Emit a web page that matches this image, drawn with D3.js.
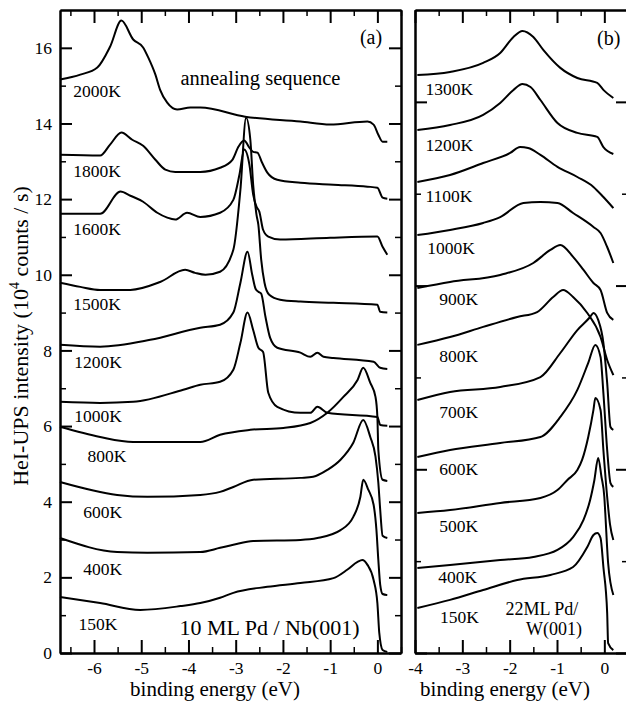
<!DOCTYPE html>
<html>
<head>
<meta charset="utf-8">
<style>
  body { margin: 0; background: #fff; }
  svg text { font-family: "Liberation Serif", "Times New Roman", serif; fill: #000; }
</style>
</head>
<body>
<svg id="chart"></svg>
<script src="https://cdn.jsdelivr.net/npm/d3@7/dist/d3.min.js"></script>
<script>
// ---- panel (a): 10 ML Pd / Nb(001), [binding energy eV, intensity 1e4 counts/s]
const tempsA = ["2000K", "1800K", "1600K", "1500K", "1200K", "1000K", "800K", "600K", "400K", "150K"];
const nb2000 = [[-6.72,15.16],[-6.29,15.29],[-5.93,15.48],[-5.66,16.03],[-5.42,16.72],[-5.17,16.22],[-4.96,16.01],[-4.85,15.74],[-4.70,15.29],[-4.60,14.89],[-4.45,14.55],[-4.24,14.37],[-3.96,14.42],[-3.75,14.42],[-2.80,14.18],[-1.63,14.05],[-1.00,13.97],[-0.21,14.05],[-0.08,13.97],[0.02,13.70],[0.11,13.52],[0.21,13.52]];
const nb1800 = [[-6.72,13.17],[-5.87,13.15],[-5.66,13.44],[-5.42,13.76],[-5.19,13.57],[-4.96,13.41],[-4.70,13.04],[-4.49,12.78],[-4.28,12.72],[-3.75,12.72],[-3.33,12.83],[-3.07,13.04],[-2.94,13.39],[-2.82,13.55],[-2.71,13.36],[-2.63,13.25],[-2.54,13.23],[-2.44,12.96],[-2.33,12.70],[-2.12,12.51],[-1.63,12.43],[-0.93,12.38],[-0.21,12.33],[0,12.30],[0.11,12.04],[0.21,12.01]];
const nb1600 = [[-6.72,11.61],[-5.87,11.61],[-5.44,12.20],[-5.23,12.09],[-4.96,11.93],[-4.66,11.64],[-4.45,11.51],[-4.28,11.46],[-4.03,11.64],[-3.75,11.53],[-3.33,11.64],[-3.05,11.98],[-2.92,12.65],[-2.82,13.31],[-2.71,12.91],[-2.63,12.12],[-2.56,11.80],[-2.50,11.67],[-2.42,11.19],[-2.31,11.01],[-2.06,10.93],[-1.00,10.98],[0,11.01],[0.11,10.74],[0.21,10.53]];
const nb1500 = [[-6.72,9.79],[-6.29,9.68],[-5.87,9.60],[-5.23,9.60],[-4.60,9.81],[-4.07,10.13],[-3.86,10.05],[-3.64,10.00],[-3.33,10.08],[-3.05,10.66],[-2.90,12.25],[-2.78,14.15],[-2.69,13.57],[-2.63,12.38],[-2.56,11.59],[-2.52,11.32],[-2.46,10.40],[-2.39,9.79],[-2.29,9.47],[-2.06,9.34],[-1.63,9.29],[-0.93,9.26],[0,9.21],[0.06,9.02],[0.21,9.00]];
const nb1200 = [[-6.72,8.15],[-5.87,8.10],[-4.81,8.28],[-3.75,8.60],[-3.33,8.68],[-3.05,9.00],[-2.90,9.79],[-2.75,10.61],[-2.65,10.00],[-2.58,9.63],[-2.52,9.55],[-2.46,9.50],[-2.37,8.89],[-2.27,8.33],[-2.12,8.07],[-1.63,7.94],[-1.42,7.83],[-1.27,7.94],[-1.14,7.83],[-0.93,7.80],[-0.08,7.70],[0.06,7.54],[0.21,7.51]];
const nb1000 = [[-6.72,6.64],[-5.87,6.61],[-5.17,6.64],[-4.11,6.96],[-3.75,7.09],[-3.33,7.17],[-3.05,7.49],[-2.90,8.20],[-2.75,9.00],[-2.63,8.54],[-2.52,8.07],[-2.42,7.96],[-2.31,6.88],[-2.12,6.51],[-1.63,6.35],[-1.42,6.35],[-1.27,6.51],[-1.06,6.35],[0,6.24],[0.06,6.03],[0.21,6.01]];
const nb800 = [[-6.72,5.98],[-5.87,5.71],[-5.17,5.58],[-3.75,5.58],[-3.33,5.77],[-2.69,5.90],[-1.99,5.95],[-1.42,6.08],[-1.06,6.35],[-0.72,6.77],[-0.42,7.22],[-0.30,7.54],[-0.15,7.14],[-0.04,6.77],[0,6.24],[0.02,5.37],[0.11,4.58],[0.21,4.55]];
const nb600 = [[-6.72,4.52],[-5.51,4.18],[-4.87,4.13],[-3.75,4.18],[-3.33,4.26],[-3.05,4.39],[-2.63,4.58],[-1.63,4.63],[-1.36,4.66],[-1.06,4.84],[-0.78,5.11],[-0.51,5.56],[-0.30,6.16],[-0.15,5.71],[-0.04,5.19],[0.02,4.50],[0.06,3.78],[0.11,3.10],[0.21,3.04]];
const nb400 = [[-6.72,3.04],[-5.51,2.67],[-4.87,2.65],[-3.75,2.67],[-3.33,2.78],[-3.05,2.86],[-2.63,2.96],[-1.63,2.99],[-1.27,3.04],[-0.78,3.25],[-0.51,3.60],[-0.36,4.13],[-0.30,4.58],[-0.19,4.31],[-0.08,3.92],[-0.02,3.25],[0.02,2.46],[0.06,1.80],[0.11,1.56],[0.21,1.53]];
const nb150 = [[-6.72,1.48],[-5.87,1.32],[-5.02,1.14],[-4.17,1.24],[-3.75,1.32],[-3.33,1.46],[-3.05,1.59],[-2.33,1.75],[-1.63,1.85],[-0.93,1.98],[-0.64,2.20],[-0.42,2.41],[-0.32,2.46],[-0.21,2.33],[-0.08,1.93],[0,1.32],[0.04,0.53],[0.11,0.08],[0.21,0.03]];
const curvesA = [nb2000, nb1800, nb1600, nb1500, nb1200, nb1000, nb800, nb600, nb400, nb150];
// label anchors (energy, intensity) of the temperature tags
const tagPosA = [[-6.44,14.71],[-6.44,12.59],[-6.44,11.06],[-6.44,9.07],[-6.42,7.54],[-6.42,6.11],[-6.14,5.05],[-6.23,3.57],[-6.23,2.06],[-6.33,0.61]];

// ---- panel (b): 22 ML Pd / W(001)
const tempsB = ["1300K", "1200K", "1100K", "1000K", "900K", "800K", "700K", "600K", "500K", "400K", "150K"];
const w1300 = [[-3.95,3.146],[-3.26,3.163],[-2.56,3.212],[-2.20,3.266],[-1.92,3.353],[-1.73,3.386],[-1.50,3.353],[-1.29,3.283],[-0.93,3.185],[-0.57,3.130],[-0.15,3.103],[-0.02,3.065],[0.19,3.021]];
const w1200 = [[-3.95,2.847],[-3.26,2.874],[-2.56,2.929],[-2.20,2.994],[-1.92,3.065],[-1.73,3.097],[-1.56,3.081],[-1.35,3.010],[-0.99,2.885],[-0.57,2.831],[-0.15,2.809],[-0.02,2.754],[0.19,2.716]];
const w1100 = [[-3.95,2.564],[-3.26,2.602],[-2.56,2.667],[-1.99,2.722],[-1.78,2.754],[-1.61,2.749],[-1.35,2.711],[-0.99,2.646],[-0.57,2.591],[-0.23,2.537],[-0.02,2.482],[0.19,2.422]];
const w1000 = [[-3.95,2.275],[-3.26,2.303],[-2.56,2.341],[-2.20,2.373],[-1.71,2.450],[-1.35,2.455],[-0.99,2.450],[-0.66,2.395],[-0.23,2.319],[-0.08,2.286],[0.06,2.210],[0.19,2.123]];
const w900 = [[-3.95,1.987],[-3.26,2.020],[-2.20,2.058],[-1.50,2.123],[-1.14,2.194],[-0.93,2.221],[-0.66,2.156],[-0.44,2.085],[-0.23,2.014],[-0.08,1.976],[0.06,1.851],[0.19,1.813]];
const w800 = [[-3.95,1.677],[-3.26,1.720],[-2.56,1.775],[-1.84,1.829],[-1.42,1.856],[-1.08,1.938],[-0.87,1.976],[-0.66,1.938],[-0.36,1.851],[-0.08,1.720],[0.06,1.595],[0.19,1.513]];
const w700 = [[-3.95,1.377],[-3.26,1.421],[-2.20,1.448],[-1.35,1.502],[-0.93,1.633],[-0.57,1.758],[-0.30,1.829],[-0.23,1.851],[-0.13,1.813],[-0.02,1.688],[0.06,1.470],[0.13,1.230],[0.19,1.214]];
const w600 = [[-3.95,1.067],[-3.26,1.105],[-2.20,1.143],[-1.35,1.176],[-0.93,1.285],[-0.57,1.432],[-0.34,1.579],[-0.19,1.677],[-0.08,1.611],[-0.02,1.415],[0.06,1.105],[0.13,0.925],[0.19,0.904]];
const w500 = [[-3.95,0.762],[-3.26,0.778],[-2.20,0.817],[-1.35,0.844],[-0.99,0.887],[-0.78,0.942],[-0.57,0.996],[-0.47,1.051],[-0.34,1.176],[-0.23,1.323],[-0.19,1.388],[-0.08,1.323],[-0.02,1.105],[0.06,0.849],[0.12,0.700],[0.19,0.615]];
const w400 = [[-3.95,0.463],[-3.26,0.479],[-2.20,0.506],[-1.50,0.523],[-0.99,0.561],[-0.66,0.631],[-0.44,0.724],[-0.30,0.833],[-0.21,0.942],[-0.13,1.062],[-0.06,0.958],[0,0.849],[0.02,0.762],[0.08,0.490],[0.19,0.316]];
const w150 = [[-3.95,0.245],[-3.26,0.289],[-2.56,0.343],[-1.84,0.397],[-1.14,0.425],[-0.66,0.468],[-0.36,0.577],[-0.23,0.642],[-0.15,0.653],[-0.08,0.626],[-0.02,0.468],[0.06,0.218],[0.08,0.054],[0.19,0.016]];
const curvesB = [w1300, w1200, w1100, w1000, w900, w800, w700, w600, w500, w400, w150];
const tagPosB = [[-3.78,3.04],[-3.78,2.73],[-3.78,2.455],[-3.74,2.17],[-3.49,1.894],[-3.49,1.584],[-3.49,1.279],[-3.49,0.969],[-3.49,0.659],[-3.51,0.381],[-3.47,0.163]];

const yTicksA = [0, 2, 4, 6, 8, 10, 12, 14, 16];

const W = 626, H = 701;
const svg = d3.select("#chart").attr("width", W).attr("height", H);
svg.append("rect").attr("width", W).attr("height", H).attr("fill", "#fff");

const plotTop = 10, plotBottom = 653;

const xA = d3.scaleLinear().domain([-6.72, 0.5]).range([60, 401]);
const yA = d3.scaleLinear().domain([0, 17]).range([plotBottom, plotTop]);
const xB = d3.scaleLinear().domain([-4, 0.5]).range([415, 628]);
const yB = d3.scaleLinear().domain([0, 3.5]).range([plotBottom, plotTop]);

function frame(x, y, xMajor, xMinor, yMajor, yMinor, yLabels) {
  const g = svg.append("g");
  const x0 = x.range()[0], x1 = x.range()[1];

  const styleAxis = (sel, w) => {
    sel.select(".domain").attr("stroke", "#000").attr("stroke-width", 2);
    sel.selectAll(".tick line").attr("stroke", "#000").attr("stroke-width", w);
    sel.selectAll("text").attr("font-family", "Liberation Serif").attr("font-size", 17.5).attr("fill", "#000");
  };

  // bottom
  g.append("g").attr("transform", `translate(0,${plotBottom})`)
    .call(d3.axisBottom(x).tickValues(xMinor).tickSize(-6).tickFormat("").tickSizeOuter(0))
    .call(s => styleAxis(s, 1.5));
  g.append("g").attr("transform", `translate(0,${plotBottom})`)
    .call(d3.axisBottom(x).tickValues(xMajor).tickSize(-13).tickPadding(9).tickSizeOuter(0)
      .tickFormat(d => d3.format("d")(d).replace("−", "-")))
    .call(s => styleAxis(s, 2));
  // top
  g.append("g").attr("transform", `translate(0,${plotTop})`)
    .call(d3.axisTop(x).tickValues(xMinor).tickSize(-6).tickFormat("").tickSizeOuter(0))
    .call(s => styleAxis(s, 1.5));
  g.append("g").attr("transform", `translate(0,${plotTop})`)
    .call(d3.axisTop(x).tickValues(xMajor).tickSize(-13).tickFormat("").tickSizeOuter(0))
    .call(s => styleAxis(s, 2));
  // left
  g.append("g").attr("transform", `translate(${x0},0)`)
    .call(d3.axisLeft(y).tickValues(yMinor).tickSize(-6).tickFormat("").tickSizeOuter(0))
    .call(s => styleAxis(s, 1.5));
  g.append("g").attr("transform", `translate(${x0},0)`)
    .call(d3.axisLeft(y).tickValues(yMajor).tickSize(-12).tickPadding(8).tickSizeOuter(0)
      .tickFormat(yLabels ? d3.format("d") : ""))
    .call(s => styleAxis(s, 2));
  // right
  g.append("g").attr("transform", `translate(${x1},0)`)
    .call(d3.axisRight(y).tickValues(yMinor).tickSize(-6).tickFormat("").tickSizeOuter(0))
    .call(s => styleAxis(s, 1.5));
  g.append("g").attr("transform", `translate(${x1},0)`)
    .call(d3.axisRight(y).tickValues(yMajor).tickSize(-12).tickFormat("").tickSizeOuter(0))
    .call(s => styleAxis(s, 2));
}

frame(xA, yA, d3.range(-6, 1, 1), d3.range(-6.5, 0.6, 1), yTicksA, d3.range(1, 17, 2), true);
frame(xB, yB, d3.range(-4, 1, 1), d3.range(-3.5, 0.6, 1), [0, 1, 2, 3], [0.5, 1.5, 2.5], false);

function drawCurves(curves, x, y) {
  const line = d3.line().x(d => x(d[0])).y(d => y(d[1])).curve(d3.curveMonotoneX);
  svg.append("g").selectAll("path").data(curves).join("path")
    .attr("d", line)
    .attr("fill", "none")
    .attr("stroke", "#000")
    .attr("stroke-width", 2)
    .attr("stroke-linejoin", "round");
}
drawCurves(curvesA, xA, yA);
drawCurves(curvesB, xB, yB);

function drawTags(names, pos, x, y) {
  svg.append("g").selectAll("text").data(names).join("text")
    .attr("x", (d, i) => x(pos[i][0]))
    .attr("y", (d, i) => y(pos[i][1]))
    .attr("font-size", 17.5)
    .text(d => d);
}
drawTags(tempsA, tagPosA, xA, yA);
drawTags(tempsB, tagPosB, xB, yB);

// annotations
svg.append("text").attr("x", xA(-4.17)).attr("y", yA(15.03)).attr("font-size", 20.5).text("annealing sequence");
svg.append("text").attr("x", xA(-4.19)).attr("y", yA(0.48)).attr("font-size", 22).text("10 ML Pd / Nb(001)");
svg.append("text").attr("x", xA(0.1)).attr("y", yA(16.11)).attr("font-size", 20).attr("text-anchor", "end").text("(a)");
svg.append("text").attr("x", xB(0.34)).attr("y", yB(3.31)).attr("font-size", 20).attr("text-anchor", "end").text("(b)");
svg.append("text").attr("x", xB(-0.55)).attr("y", yB(0.207)).attr("font-size", 18).attr("text-anchor", "end").text("22ML Pd/");
svg.append("text").attr("x", xB(-0.47)).attr("y", yB(0.098)).attr("font-size", 18).attr("text-anchor", "end").text("W(001)");

// axis titles
svg.append("text").attr("x", 215).attr("y", 696).attr("font-size", 21).attr("text-anchor", "middle").text("binding energy (eV)");
svg.append("text").attr("x", 505).attr("y", 696).attr("font-size", 21).attr("text-anchor", "middle").text("binding energy (eV)");

const yt = svg.append("text")
  .attr("transform", "translate(28,336) rotate(-90)")
  .attr("text-anchor", "middle")
  .attr("font-size", 22);
yt.append("tspan").text("HeI-UPS intensity (10");
yt.append("tspan").attr("dy", -9).attr("font-size", 14).text("4");
yt.append("tspan").attr("dy", 9).text(" counts / s)");
</script>
</body>
</html>
